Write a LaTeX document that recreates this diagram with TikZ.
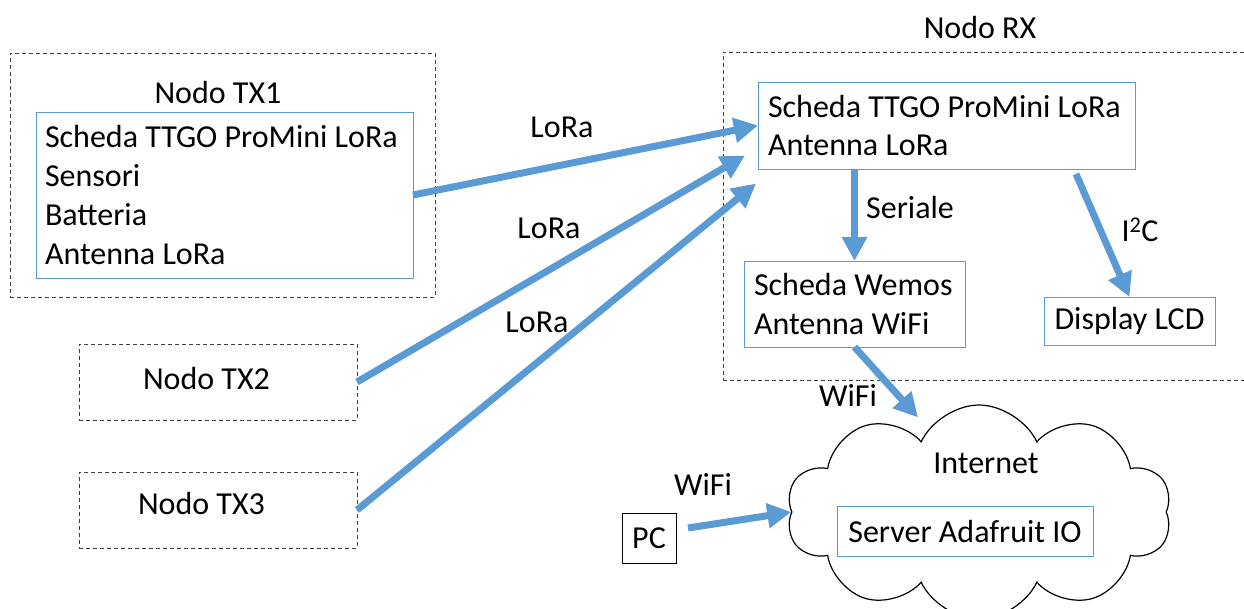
\documentclass[tikz,border=0pt]{standalone}
\usepackage{fontspec}
\setmainfont{Carlito}
\usepackage{tikz}
\usetikzlibrary{arrows.meta,shapes.symbols}
\definecolor{LineBlue}{HTML}{5B9BD5}
\definecolor{DashGray}{HTML}{404040}

\begin{document}
\begin{tikzpicture}[x=1pt,y=-1pt,font=\fontsize{32pt}{38.7pt}\selectfont]
  \tikzset{BoxStyle/.style = {
    shape         = rectangle,
    draw          = LineBlue,
    fill          = white,
    line width    = 0.9pt,
    text          = black,
    align         = flush left,
    inner xsep    = 9pt,
    inner ysep    = 0pt,
    outer sep     = 0pt
    }
  }
  \tikzset{PlainBoxStyle/.style = {
    shape         = rectangle,
    draw          = black,
    fill          = white,
    line width    = 1pt,
    text          = black,
    inner sep     = 0pt,
    outer sep     = 0pt
    }
  }
  \tikzset{DashedBoxStyle/.style = {
    shape         = rectangle,
    draw          = DashGray,
    dash pattern  = on 4pt off 3pt,
    line width    = 1pt,
    text          = black,
    align         = flush left,
    inner sep     = 0pt,
    outer sep     = 0pt
    }
  }
  \tikzset{CloudStyle/.style = {
    shape           = cloud,
    draw            = black,
    fill            = white,
    line width      = 1.2pt,
    cloud puffs     = 10,
    cloud puff arc  = 130,
    aspect          = 1.9,
    minimum width   = 385pt,
    minimum height  = 214pt,
    inner sep       = 0pt
    }
  }
  \tikzset{ArrowStyle/.style = {
    draw            = LineBlue,
    line width      = 7pt,
    -{Triangle[length=24pt, width=24pt]}
    }
  }
  \tikzset{LabelStyle/.style = {
    text            = black,
    inner sep       = 0pt
    }
  }

  \useasboundingbox (0,0) rectangle (1244,608);

  \node[DashedBoxStyle, minimum width=425pt, minimum height=244pt](TX1) at (222.5, 175) {};
  \node[LabelStyle](TX1Label) at (218, 92) {Nodo TX1};
  \node[BoxStyle, minimum width=377pt, minimum height=166pt, text width=359pt](Scheda1) at (224.5, 195)
    {Scheda TTGO ProMini LoRa\\Sensori\\Batteria\\Antenna LoRa};
  \node[DashedBoxStyle, minimum width=278pt, minimum height=76pt, inner xsep=64pt, text width=150pt, text depth=8pt](TX2) at (218, 382) {Nodo TX2};
  \node[DashedBoxStyle, minimum width=278pt, minimum height=76pt, inner xsep=59pt, text width=160pt, text depth=14pt](TX3) at (218, 510) {Nodo TX3};

  \node[DashedBoxStyle, minimum width=527pt, minimum height=328pt](RX) at (986.5, 216) {};
  \node[LabelStyle](RXLabel) at (980, 27) {Nodo RX};
  \node[BoxStyle, minimum width=377pt, minimum height=87pt, text width=357pt, inner xsep=10pt](Scheda2) at (946.5, 125.5)
    {Scheda TTGO ProMini LoRa\\Antenna LoRa};
  \node[BoxStyle, minimum width=221pt, minimum height=86pt, text width=201pt, inner xsep=10pt](Wemos) at (854.5, 304)
    {Scheda Wemos\\Antenna WiFi};
  \node[BoxStyle, minimum width=171pt, minimum height=48pt, align=center](LCD) at (1129.5, 321) {Display LCD};

  \node[CloudStyle](Cloud) at (979, 512) {};
  \node[LabelStyle](Internet) at (986, 463) {Internet};
  \node[BoxStyle, minimum width=256pt, minimum height=50pt, align=center](Server) at (965, 531.5) {Server Adafruit IO};
  \node[PlainBoxStyle, minimum width=54pt, minimum height=50pt](PC) at (649, 538) {PC};

  \draw[ArrowStyle](Scheda1.east) -- (Scheda2.west);
  \draw[ArrowStyle](TX2.east) -- ([xshift=-13pt, yshift=-30pt]Scheda2.west);
  \draw[ArrowStyle](TX3.east) -- ([xshift=-2pt, yshift=-58pt]Scheda2.west);
  \draw[ArrowStyle](Wemos.north |- Scheda2.south) -- (Wemos.north);
  \draw[ArrowStyle]([xshift=-59pt, yshift=-5pt]Scheda2.south east) -- (LCD.north);
  \draw[ArrowStyle](Wemos.south) -- ([xshift=-61pt, yshift=-13pt]Cloud.north);
  \draw[ArrowStyle]([xshift=12pt, yshift=10pt]PC.east) -- (Cloud.west);

  \node[LabelStyle](LoRa1) at (562, 127) {LoRa};
  \node[LabelStyle](LoRa2) at (549, 228) {LoRa};
  \node[LabelStyle](LoRa3) at (537, 322) {LoRa};
  \node[LabelStyle](Seriale) at (910, 208) {Seriale};
  \node[LabelStyle](I2C) at (1140, 230) {I\textsuperscript{2}C};
  \node[LabelStyle](WiFi1) at (848, 395) {WiFi};
  \node[LabelStyle](WiFi2) at (703, 484) {WiFi};

\end{tikzpicture}
\end{document}
